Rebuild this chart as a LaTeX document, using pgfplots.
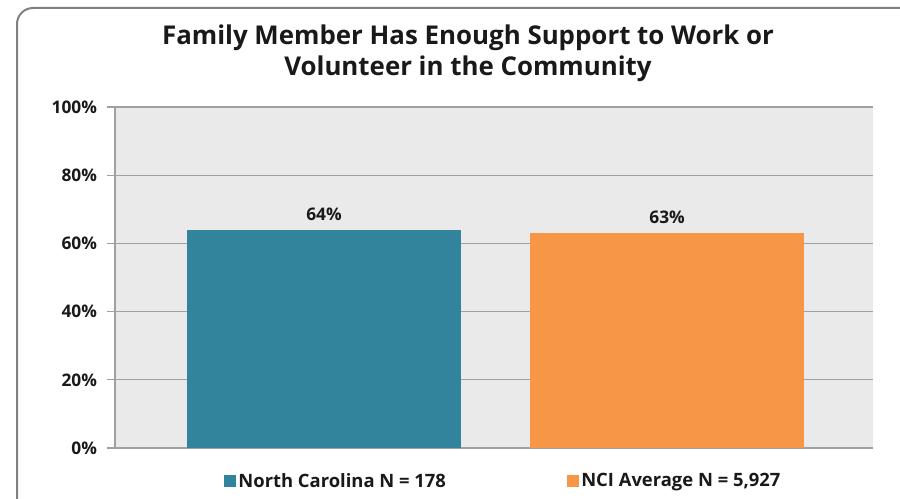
\documentclass[border=0pt]{standalone}
\usepackage{fontspec}
\setmainfont{Open Sans}
\usepackage{pgfplots}
\pgfplotsset{compat=1.18}
\definecolor{ncteal}{HTML}{31849B}
\definecolor{nciorange}{HTML}{F79646}
\definecolor{plotbg}{HTML}{EAEAEA}
\definecolor{gridgray}{HTML}{A0A0A0}
\definecolor{framegray}{HTML}{808080}
\begin{document}
\begin{tikzpicture}
\useasboundingbox (0,0) rectangle (675pt,-374.25pt);
\begin{scope}
\clip (0,0) rectangle (675pt,-374.25pt);
\draw[framegray, line width=1.5pt, rounded corners=12pt] (12.75pt,-6pt) rectangle (690pt,-390pt);
\end{scope}
\node[font=\bfseries\fontsize{19.4}{23.5}\selectfont, align=center, text=black!90] at (351pt,-40pt) {Family Member Has Enough Support to Work or\\Volunteer in the Community};
\begin{axis}[
  at={(86.25pt,-336pt)}, anchor=south west,
  scale only axis, width=568.5pt, height=255.75pt,
  xmin=-0.609, xmax=1.60, ymin=0, ymax=100,
  axis background/.style={fill=plotbg},
  axis x line*=bottom, axis y line*=left,
  axis line style={-, draw=gridgray, line width=0.8pt},
  xtick=\empty,
  ytick={0,20,40,60,80,100},
  yticklabels={0\%,20\%,40\%,60\%,80\%,100\%},
  yticklabel style={font=\bfseries\fontsize{13}{15}\selectfont, text=black!90, xshift=-4pt},
  /pgf/number format/assume math mode=true,
  ymajorgrids, grid style={draw=gridgray, line width=0.8pt},
  tick align=outside, major tick length=6pt, tick style={draw=gridgray, line width=0.8pt},
  ybar, bar width=206pt, bar shift=0pt,
  nodes near coords={\pgfmathprintnumber{\pgfplotspointmeta}\%},
  nodes near coords style={font=\bfseries\fontsize{13}{15}\selectfont, text=black!90, yshift=3.5pt},
  legend style={at={(0.5124,-0.097)}, anchor=center, draw=none, fill=none,
    legend columns=2, font=\bfseries\fontsize{13.8}{15}\selectfont, text=black!90,
    /tikz/every even column/.append style={column sep=88.5pt}},
  legend image code/.code={\fill[#1] (0pt,-4.5pt) rectangle (9pt,4.5pt);},
]
\addplot[fill=ncteal, draw=none] coordinates {(0,64)};
\addlegendentry{North Carolina N = 178}
\addplot[fill=nciorange, draw=none] coordinates {(1,63)};
\addlegendentry{NCI Average N = 5,927}
\end{axis}
\end{tikzpicture}
\end{document}
